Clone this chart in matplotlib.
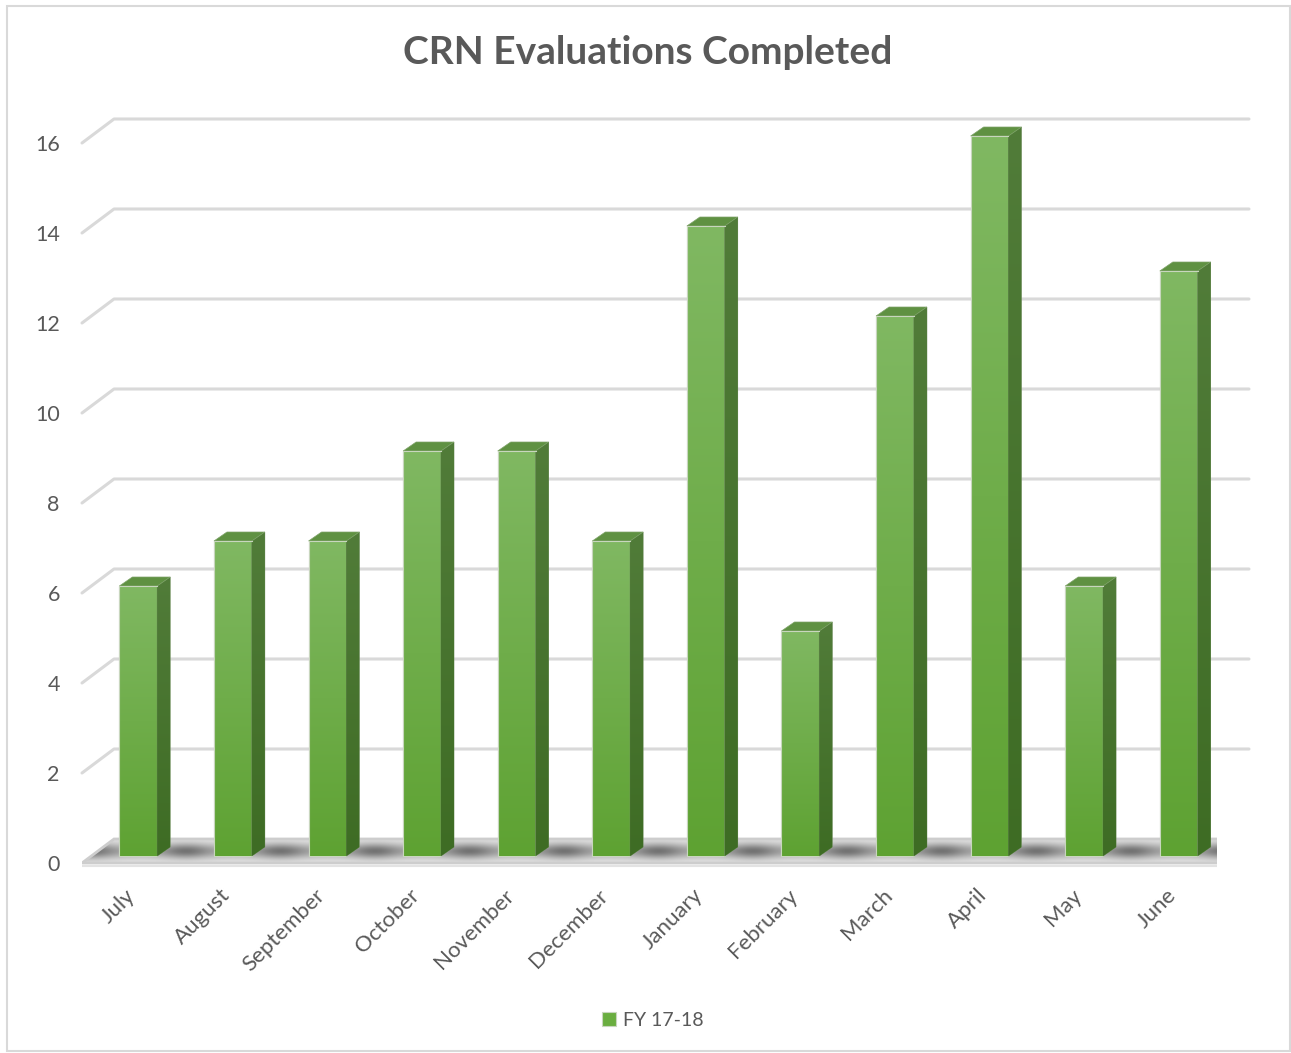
import numpy as np
import matplotlib
matplotlib.use("Agg")
import matplotlib.pyplot as plt
import matplotlib.transforms as mtransforms
from matplotlib.patches import Polygon, Rectangle
from matplotlib.colors import LinearSegmentedColormap

months = ["July", "August", "September", "October", "November", "December",
          "January", "February", "March", "April", "May", "June"]
evaluations = [6, 7, 7, 9, 9, 7, 14, 5, 12, 16, 6, 13]
series_name = "FY 17-18"
y_ticks = [0, 2, 4, 6, 8, 10, 12, 14, 16]
title = "CRN Evaluations Completed"

plt.rcParams["font.family"] = ["Lato", "DejaVu Sans"]
TXT = "#595959"
GRID = "#D9D9D9"

W, H = 1291, 1053
fig = plt.figure(figsize=(W / 100, H / 100), dpi=100)
fig.patch.set_facecolor("white")

# front plane of the fake 3-D box, in pixels (value 0 at B, top tick at T)
L, R, B, T = 82, 1217, 863, 143
n = len(months)
x = np.arange(n)
XMIN, XMAX, YMAX = -0.5, n - 0.5, y_ticks[-1]
px_x = (R - L) / n
px_y = (B - T) / YMAX
# axes is a bit taller than the value range so the 3-D tops are not clipped
YLO, YHI = -1.0, YMAX + 1.5
ax_bot = B + (0 - YLO) * px_y
ax_top = T - (YHI - YMAX) * px_y
ax = fig.add_axes([L / W, 1 - ax_bot / H, (R - L) / W, (ax_bot - ax_top) / H])


def off(dxp, dyp):
    return dxp / px_x, dyp / px_y


back_dx, back_dy = off(32, 24)   # back wall
bar_dx, bar_dy = off(9, 7)       # front face of the bars
dep_dx, dep_dy = off(13, 9)      # depth of each bar
bw = 0.40

# ── gridlines on the back wall with the short diagonal on the left ─────────
for v in y_ticks[1:]:
    ax.plot([XMIN, XMIN + back_dx, XMAX + back_dx], [v, v + back_dy, v + back_dy],
            color=GRID, lw=2.2, clip_on=False, zorder=1, solid_capstyle="round")

# ── floor ──────────────────────────────────────────────────────────────────
floor = Polygon([(XMIN, 0), (XMAX, 0), (XMAX + back_dx, back_dy), (XMIN + back_dx, back_dy)],
                closed=True, facecolor="none", edgecolor="#CDCDCD", lw=2, zorder=2)
ax.add_patch(floor)
xs = np.linspace(XMIN, XMAX + back_dx, 900)
ts = np.linspace(0, 1, 60)
gx, gt = np.meshgrid(xs, ts)
mid = np.abs(((gx - bar_dx) % 1.0) - 0.5)
blob = np.exp(-(mid / 0.24) ** 2)
prof = np.exp(-((gt - 0.5) / 0.32) ** 2)
shade = 0.9 - 0.45 * prof * (0.5 + 0.5 * blob)
fim = ax.imshow(shade, extent=[XMIN, XMAX + back_dx, 0, back_dy], origin="lower",
                cmap="gray", vmin=0, vmax=1, aspect="auto", zorder=1.5,
                interpolation="bilinear")
fim.set_clip_path(floor)
ax.plot([XMIN, XMAX], [-3 / px_y, -3 / px_y], color="#E3E3E3", lw=1.5, zorder=2)

# ── bars ───────────────────────────────────────────────────────────────────
front_cm = LinearSegmentedColormap.from_list("front", ["#80B862", "#5EA232"])
side_cm = LinearSegmentedColormap.from_list("side", ["#517C39", "#3E6C24"])
grad = np.linspace(0, 1, 256).reshape(-1, 1)

bars = ax.bar(x + bar_dx, evaluations, width=bw, bottom=bar_dy, color="#6AAE40",
              edgecolor="#C8D6BE", lw=0.8, zorder=4, label=series_name)
for rect, v in zip(bars, evaluations):
    x0, x1 = rect.get_x(), rect.get_x() + rect.get_width()
    y0, y1 = rect.get_y(), rect.get_y() + rect.get_height()
    im = ax.imshow(grad, extent=[x0, x1, y0, y1], cmap=front_cm, aspect="auto",
                   zorder=4.2, origin="upper")
    im.set_clip_path(rect)
    side = Polygon([(x1, y0), (x1 + dep_dx, y0 + dep_dy), (x1 + dep_dx, y1 + dep_dy), (x1, y1)],
                   closed=True, facecolor="#476F2E", edgecolor="#6E8F5C", lw=0.5, zorder=4.3)
    ax.add_patch(side)
    sim = ax.imshow(grad, extent=[x1, x1 + dep_dx, y0, y1 + dep_dy], cmap=side_cm,
                    aspect="auto", zorder=4.4, origin="upper")
    sim.set_clip_path(side)
    top = Polygon([(x0, y1), (x1, y1), (x1 + dep_dx, y1 + dep_dy), (x0 + dep_dx, y1 + dep_dy)],
                  closed=True, facecolor="#5F9142", edgecolor="#7FA36A", lw=0.5, zorder=4.5)
    ax.add_patch(top)
    ax.plot([x0, x0, x1], [y0, y1, y1], color="#C8D6BE", lw=0.8, zorder=4.6)

ax.set_xlim(XMIN, XMAX)
ax.set_ylim(YLO, YHI)
for s in ax.spines.values():
    s.set_visible(False)
ax.patch.set_visible(False)

ax.set_yticks(y_ticks)
ax.tick_params(axis="y", length=0, pad=16, labelsize=15.5, labelcolor=TXT)
ax.set_xticks(x)
ax.set_xticklabels(months, rotation=45, ha="right", rotation_mode="anchor")
ax.tick_params(axis="x", length=0, pad=16, labelsize=16, labelcolor=TXT)
# tick labels sit just under the floor front edge
shift = mtransforms.ScaledTranslation(-4 / 100, (0 - YLO) * px_y / 100, fig.dpi_scale_trans)
for lab in ax.get_xticklabels():
    lab.set_transform(lab.get_transform() + shift)

fig.text(648 / W, 1 - 53 / H, title, ha="center", va="center", fontsize=28,
         fontweight="bold", color=TXT)

fig.legend(handles=[bars], labels=[series_name], loc="center",
           bbox_to_anchor=(653 / W, 1 - 1020 / H), frameon=False, fontsize=14,
           handlelength=0.7, handleheight=0.7, handletextpad=0.4, labelcolor=TXT)

fig.add_artist(Rectangle((7 / W, 1 - 1051 / H), (1290 - 7) / W, (1051 - 6) / H,
                         transform=fig.transFigure, fill=False, ec=GRID, lw=1.5))

fig.savefig("out.png", dpi=100, facecolor="white")
